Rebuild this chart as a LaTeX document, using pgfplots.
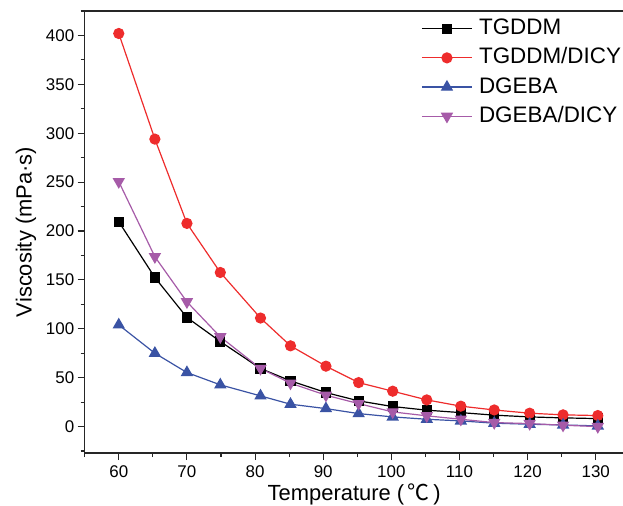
\documentclass[border=0pt]{standalone}
\usepackage{pgfplots}
\pgfplotsset{compat=1.18}
\usepackage{fontspec}
\setmainfont{Liberation Sans}
\newfontfamily\cjk{Noto Sans CJK SC}
\definecolor{cred}{HTML}{EE2C2C}
\definecolor{cblue}{HTML}{3A53A4}
\definecolor{cpurple}{HTML}{A65BA8}
\definecolor{caxis}{HTML}{262626}
\begin{document}
\begin{tikzpicture}
\begin{axis}[
  scale only axis=true,
  width=539bp, height=442bp,
  xmin=55, xmax=134.1, ymin=-27, ymax=425,
  axis line style={line width=1.4bp, color=caxis},
  clip=false,
  xtick={60,70,...,130}, ytick={0,50,...,400},
  minor xtick={55,65,...,135}, minor ytick={-25,25,...,425},
  xtick pos=bottom, ytick pos=left,
  tick align=outside,
  major tick length=7bp, minor tick length=4bp,
  every tick/.style={line width=1.1bp, color=caxis},
  /pgf/number format/assume math mode=true,
  tick label style={font=\fontsize{17}{20}\selectfont},
  xticklabel style={yshift=-2bp},
  label style={font=\fontsize{22}{24}\selectfont},
  xlabel={Temperature (\,{\cjk ℃}\,)},
  ylabel={Viscosity (mPa·s)},
  xlabel style={at={(rel axis cs:0.5,0)}, anchor=base, yshift=-47bp},
  ylabel style={yshift=3bp},
  legend cell align=left,
  legend style={draw=none, fill=none, at={(1,1)}, anchor=north east, xshift=2bp, yshift=-4bp,
    font=\fontsize{22.5}{24}\selectfont,
    nodes={inner sep=1.5bp, text height=16bp, text depth=4bp},
    row sep=6.2bp,
    /tikz/every odd column/.append style={column sep=5bp}},
  legend image code/.code={\draw[mark repeat=2,mark phase=2] plot coordinates {(0bp,0bp)(25bp,0bp)(50bp,0bp)};},
  every axis plot/.append style={line width=1.2bp},
]
\draw[line width=2bp, caxis] (rel axis cs:0,1) -- (rel axis cs:1,1);
\addplot[black, mark=square*, mark size=4.5bp] coordinates {
(60,209.5)(65.3,152.5)(70,111.6)(74.9,87)(80.8,59.4)(85.2,46.8)(90.4,34.8)(95.2,26.3)
(100.2,20.5)(105.2,16.8)(110.2,14.3)(115.1,11.7)(120.3,9.9)(125.2,8.9)(130.3,8.2)};
\addlegendentry{TGDDM}
\addplot[cred, mark=*, mark size=5bp] coordinates {
(60,402)(65.3,294)(70,207.8)(74.9,157.6)(80.8,111)(85.2,82.6)(90.4,61.8)(95.2,45)
(100.2,36.2)(105.2,27.3)(110.2,20.9)(115.1,17)(120.3,13.7)(125.2,12)(130.3,11.3)};
\addlegendentry{TGDDM/DICY}
\addplot[cblue, mark=triangle*, mark size=6bp] coordinates {
(60,104)(65.3,75)(70,55.3)(74.9,42.7)(80.8,31.4)(85.2,22.9)(90.4,18.4)(95.2,13.3)
(100.2,9.9)(105.2,7.5)(110.2,5.8)(115.1,3.5)(120.3,2.4)(125.2,1.7)(130.3,0.7)};
\addlegendentry{DGEBA}
\addplot[cpurple, mark=triangle*, mark options={rotate=180}, mark size=6bp] coordinates {
(60,250.5)(65.3,173.7)(70,127.6)(74.9,91.8)(80.8,59.4)(85.2,44.4)(90.4,32.1)(95.2,23.5)
(100.2,15)(105.2,11)(110.2,7.5)(115.1,4.1)(120.3,3.1)(125.2,1.4)(130.3,0)};
\addlegendentry{DGEBA/DICY}
\end{axis}
\pgfresetboundingbox
\path[use as bounding box] (current axis.south west) ++(-84.7bp,-53bp) rectangle ++(623bp,506bp);
\end{tikzpicture}
\end{document}
